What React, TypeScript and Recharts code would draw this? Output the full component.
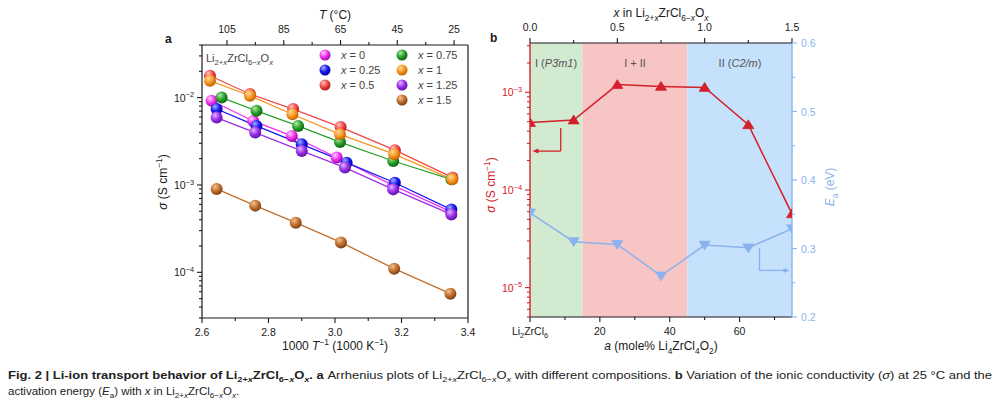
import React from 'react';
import { ComposedChart, Line, XAxis, YAxis, ReferenceArea, ReferenceLine, ReferenceDot } from 'recharts';

const FONT = '"Liberation Sans", Arial, Helvetica, sans-serif';
const CAP_FONT = '"Liberation Sans Narrow", "Liberation Sans", sans-serif';

// ---------- panel a : Arrhenius plots, 1000/T vs sigma ----------
const invT_x0 = [2.629, 2.754, 2.87, 3.005, 3.175, 3.348];
const sig_x0 = [9.2e-3, 5.4e-3, 3.64e-3, 2.06e-3, 9.9e-4, 4.96e-4];
const invT_x025 = [2.644, 2.764, 2.9, 3.035, 3.18, 3.35];
const sig_x025 = [7.4e-3, 4.74e-3, 2.92e-3, 1.8e-3, 1.06e-3, 5.23e-4];
const invT_x05 = [2.624, 2.744, 2.874, 3.017, 3.18, 3.353];
const sig_x05 = [1.78e-2, 1.1e-2, 7.4e-3, 4.6e-3, 2.5e-3, 1.22e-3];
const invT_x075 = [2.659, 2.764, 2.889, 3.015, 3.175, 3.35];
const sig_x075 = [1.0e-2, 7.05e-3, 4.74e-3, 3.1e-3, 1.88e-3, 1.16e-3];
const invT_x1 = [2.624, 2.744, 2.872, 3.015, 3.178, 3.353];
const sig_x1 = [1.56e-2, 1.05e-2, 6.45e-3, 3.8e-3, 2.25e-3, 1.16e-3];
const invT_x125 = [2.644, 2.76, 2.9, 3.03, 3.175, 3.35];
const sig_x125 = [5.9e-3, 3.98e-3, 2.45e-3, 1.58e-3, 8.9e-4, 4.6e-4];
const invT_x15 = [2.644, 2.76, 2.882, 3.018, 3.178, 3.347];
const sig_x15 = [9.0e-4, 5.8e-4, 3.7e-4, 2.2e-4, 1.1e-4, 5.7e-5];

const seriesA = [
  { label: '0', invT: invT_x0, sigma: sig_x0, base: '#ee33ee', light: '#ffd2ff', dark: '#a000a8' },
  { label: '0.25', invT: invT_x025, sigma: sig_x025, base: '#1818f0', light: '#a8b0ff', dark: '#0000a0' },
  { label: '0.5', invT: invT_x05, sigma: sig_x05, base: '#f04848', light: '#ffc4c4', dark: '#b01818' },
  { label: '0.75', invT: invT_x075, sigma: sig_x075, base: '#2aa02a', light: '#b0eaa8', dark: '#0e600e' },
  { label: '1', invT: invT_x1, sigma: sig_x1, base: '#f8961e', light: '#ffdaa6', dark: '#c06000' },
  { label: '1.25', invT: invT_x125, sigma: sig_x125, base: '#9a30e8', light: '#e2b6ff', dark: '#5e10a8' },
  { label: '1.5', invT: invT_x15, sigma: sig_x15, base: '#c0702e', light: '#f2c494', dark: '#7c3e10' },
];

const ticksInvT = [2.6, 2.7, 2.8, 2.9, 3.0, 3.1, 3.2, 3.3, 3.4];
const ticksTempC = [105, 95, 85, 75, 65, 55, 45, 35, 25];

// ---------- panel b : sigma(25 C) and Ea vs composition ----------
const molePct = [0, 12.5, 25, 37.5, 50, 62.5, 75];
const xComp = [0, 0.25, 0.5, 0.75, 1, 1.25, 1.5];
const sigma25 = [4.9e-4, 5.2e-4, 1.2e-3, 1.15e-3, 1.12e-3, 4.65e-4, 5.7e-5];
const eaEv = [0.352, 0.31, 0.306, 0.26, 0.305, 0.301, 0.329];

const ticksMole = [0, 10, 20, 30, 40, 50, 60, 70];
const ticksX = [0, 0.25, 0.5, 0.75, 1, 1.25, 1.5];
const ticksEa = [0.2, 0.25, 0.3, 0.35, 0.4, 0.45, 0.5, 0.55, 0.6];

const phaseAreas = [
  { from: 0, to: 15, fill: '#d2ead0' },
  { from: 15, to: 45, fill: '#f8c5c5' },
  { from: 45, to: 75, fill: '#c6e1fb' },
];

// annotation arrows (data units)
const sigArrow = [{ x: 8.8, y: 4.3e-4 }, { x: 8.8, y: 2.5e-4 }, { x: 2.2, y: 2.5e-4 }];
const eaArrow = [{ x: 65.7, y: 0.301 }, { x: 65.7, y: 0.268 }, { x: 72.8, y: 0.268 }];

const RED = '#d4202a';
const BLUE = '#8ab2ee';
const INK = '#1a1a1a';

const logTicks = (lo: number, hi: number) => {
  const out: number[] = [];
  for (let e = -7; e <= 0; e++) {
    for (let m = 1; m < 10; m++) {
      const v = m * Math.pow(10, e);
      if (v >= lo * 0.999 && v <= hi * 1.001) out.push(v);
    }
  }
  return out;
};
const isDecade = (v: number) => Math.abs(Math.log10(v) - Math.round(Math.log10(v))) < 1e-6;

type Seg = [string, number?, string?];
const shift = (lv: number, fs: number) => (lv < 0 ? fs * 0.3 : lv > 0 ? -fs * 0.4 : 0);
function rich(segs: Seg[], fs: number) {
  let cur = 0;
  return segs.map(([t, lv = 0, st = ''], i) => {
    const dy = shift(lv, fs) - shift(cur, fs);
    cur = lv;
    return (
      <tspan
        key={i}
        dy={dy || undefined}
        fontSize={lv ? fs * 0.7 : fs}
        fontStyle={st.includes('i') ? 'italic' : undefined}
        fontWeight={st.includes('b') ? 700 : undefined}
      >
        {t}
      </tspan>
    );
  });
}
const formula = (st = ''): Seg[] => [
  ['Li', 0, st], ['2+', -1, st], ['x', -1, st + 'i'], ['ZrCl', 0, st], ['6−', -1, st], ['x', -1, st + 'i'], ['O', 0, st], ['x', -1, st + 'i'],
];
const pow10 = (v: number): Seg[] => [['10'], ['−' + Math.round(-Math.log10(v)), 1]];

type TickOpts = {
  side: 'left' | 'right' | 'top' | 'bottom';
  color: string;
  isMajor: (v: number) => boolean;
  label: (v: number) => any;
  fs?: number;
};
const makeTick = (o: TickOpts) => (p: any) => {
  const { x, y, payload } = p;
  const v = payload.value;
  const maj = o.isMajor(v);
  const L = maj ? 5 : 3;
  const fs = o.fs ?? 10.5;
  let ln = [x, y, x, y];
  let tx = x, ty = y, anchor = 'middle';
  if (o.side === 'left') { ln = [x, y, x - L, y]; tx = x - 8; ty = y + 4; anchor = 'end'; }
  else if (o.side === 'right') { ln = [x, y, x + L, y]; tx = x + 9; ty = y + 4; anchor = 'start'; }
  else if (o.side === 'top') { ln = [x, y, x, y - L]; ty = y - 12; }
  else { ln = [x, y, x, y + L]; ty = y + 18; }
  return (
    <g>
      <line x1={ln[0]} y1={ln[1]} x2={ln[2]} y2={ln[3]} stroke={o.color} strokeWidth={1.1} />
      {maj && (
        <text x={tx} y={ty} textAnchor={anchor} fill={o.color} fontSize={fs} fontFamily={FONT}>
          {o.label(v)}
        </text>
      )}
    </g>
  );
};

const Ball = (id: string) => (p: any) =>
  p.cx == null ? <g key={p.key} /> : <circle key={p.key} cx={p.cx} cy={p.cy} r={6} fill={`url(#${id})`} />;

const Tri = (color: string, down: boolean, s = 5.5) => (p: any) => {
  if (p.cx == null) return <g key={p.key} />;
  const { cx, cy } = p;
  const d = down
    ? `M${cx - s},${cy - s * 0.7} L${cx + s},${cy - s * 0.7} L${cx},${cy + s * 0.9} Z`
    : `M${cx - s},${cy + s * 0.7} L${cx + s},${cy + s * 0.7} L${cx},${cy - s * 0.9} Z`;
  return <path key={p.key} d={d} fill={color} stroke={color} strokeWidth={0.8} />;
};

const ArrowHead = (color: string, dir: 'left' | 'right') => (p: any) => {
  const { cx, cy } = p;
  const k = dir === 'left' ? 1 : -1;
  return <path d={`M${cx},${cy} L${cx + 6 * k},${cy - 2.5} L${cx + 6 * k},${cy + 2.5} Z`} fill={color} />;
};

const legendCols = [
  { cx: 325, tx: 341, items: [0, 1, 2] },
  { cx: 402, tx: 418, items: [3, 4, 5, 6] },
];

function PanelA() {
  const sigTicks = logTicks(3e-5, 4e-2);
  return (
    <ComposedChart width={400} height={360} margin={{ top: 15, right: 32, bottom: 12, left: 42 }}>
      <defs>
        {seriesA.map((s, i) => (
          <radialGradient key={i} id={`ball${i}`} cx="38%" cy="34%" r="68%" fx="36%" fy="30%">
            <stop offset="0" stopColor={s.light} />
            <stop offset="0.55" stopColor={s.base} />
            <stop offset="1" stopColor={s.dark} />
          </radialGradient>
        ))}
      </defs>
      <XAxis
        xAxisId="b"
        dataKey="t"
        type="number"
        domain={[2.6, 3.4]}
        allowDataOverflow
        ticks={ticksInvT}
        interval={0}
        height={30}
        tickSize={0}
        tickMargin={0}
        tickLine={false}
        axisLine={{ stroke: INK, strokeWidth: 1.2 }}
        tick={makeTick({ side: 'bottom', color: INK, isMajor: (v) => Math.round(v * 10) % 2 === 0, label: (v) => v.toFixed(1) })}
      />
      <XAxis
        xAxisId="top"
        dataKey="c"
        orientation="top"
        type="number"
        domain={[20.1, 113.8]}
        reversed
        allowDataOverflow
        ticks={ticksTempC}
        interval={0}
        height={30}
        tickSize={0}
        tickMargin={0}
        tickLine={false}
        axisLine={{ stroke: INK, strokeWidth: 1.2 }}
        tick={makeTick({ side: 'top', color: INK, isMajor: (v) => (v - 25) % 20 === 0, label: (v) => String(v) })}
      />
      <YAxis
        yAxisId="s"
        scale="log"
        type="number"
        domain={[3e-5, 4e-2]}
        allowDataOverflow
        ticks={sigTicks}
        interval={0}
        width={60}
        tickSize={0}
        tickMargin={0}
        tickLine={false}
        axisLine={{ stroke: INK, strokeWidth: 1.2 }}
        tick={makeTick({ side: 'left', color: INK, isMajor: isDecade, label: (v) => rich(pow10(v), 10.5) })}
      />
      <ReferenceLine xAxisId="b" yAxisId="s" x={3.4} stroke={INK} strokeWidth={1.2} />
      {/* empty series so that the temperature axis is drawn */}
      <Line
        xAxisId="top"
        yAxisId="s"
        data={ticksTempC.map((c) => ({ c, s: null }))}
        dataKey="s"
        stroke="none"
        dot={false}
        activeDot={false}
        legendType="none"
        isAnimationActive={false}
      />
      {seriesA.map((s, i) => (
        <Line
          key={s.label}
          xAxisId="b"
          yAxisId="s"
          data={s.invT.map((t, j) => ({ t, s: s.sigma[j] }))}
          dataKey="s"
          type="linear"
          stroke={s.base}
          strokeWidth={1.3}
          dot={Ball(`ball${i}`)}
          activeDot={false}
          isAnimationActive={false}
        />
      ))}
    </ComposedChart>
  );
}

function PanelB() {
  const rows = molePct.map((a, i) => ({ a, x: xComp[i], sigma: sigma25[i], ea: eaEv[i] }));
  const sigTicks = logTicks(5e-6, 3.2e-3);
  return (
    <ComposedChart width={400} height={360} data={rows} margin={{ top: 15, right: 38, bottom: 13, left: 10 }}>
      <XAxis
        xAxisId="b"
        dataKey="a"
        type="number"
        domain={[0, 75]}
        allowDataOverflow
        ticks={ticksMole}
        interval={0}
        height={30}
        tickSize={0}
        tickMargin={0}
        tickLine={false}
        axisLine={{ stroke: INK, strokeWidth: 1.2 }}
        tick={makeTick({
          side: 'bottom',
          color: INK,
          isMajor: (v) => v % 20 === 0,
          label: (v) => (v === 0 ? rich([['Li'], ['2', -1], ['ZrCl'], ['6', -1]], 10.5) : String(v)),
        })}
      />
      <XAxis
        xAxisId="t"
        dataKey="x"
        orientation="top"
        type="number"
        domain={[0, 1.5]}
        allowDataOverflow
        ticks={ticksX}
        interval={0}
        height={28}
        tickSize={0}
        tickMargin={0}
        tickLine={false}
        axisLine={{ stroke: INK, strokeWidth: 1.2 }}
        tick={makeTick({ side: 'top', color: INK, isMajor: (v) => Math.round(v * 100) % 50 === 0, label: (v) => v.toFixed(1) })}
      />
      <YAxis
        yAxisId="s"
        scale="log"
        type="number"
        domain={[5e-6, 3.2e-3]}
        allowDataOverflow
        ticks={sigTicks}
        interval={0}
        width={50}
        tickSize={0}
        tickMargin={0}
        tickLine={false}
        axisLine={{ stroke: RED, strokeWidth: 1.4 }}
        tick={makeTick({ side: 'left', color: RED, isMajor: isDecade, label: (v) => rich(pow10(v), 10.5) })}
      />
      <YAxis
        yAxisId="e"
        orientation="right"
        type="number"
        domain={[0.2, 0.6]}
        allowDataOverflow
        ticks={ticksEa}
        interval={0}
        width={40}
        tickSize={0}
        tickMargin={0}
        tickLine={false}
        axisLine={{ stroke: BLUE, strokeWidth: 1.4 }}
        tick={makeTick({ side: 'right', color: BLUE, isMajor: (v) => Math.round(v * 100) % 10 === 0, label: (v) => v.toFixed(1) })}
      />
      {phaseAreas.map((r) => (
        <ReferenceArea key={r.from} xAxisId="b" yAxisId="e" x1={r.from} x2={r.to} fill={r.fill} fillOpacity={1} stroke="none" />
      ))}
      <ReferenceLine xAxisId="b" yAxisId="s" segment={[sigArrow[0], sigArrow[1]]} stroke={RED} strokeWidth={1.3} />
      <ReferenceLine xAxisId="b" yAxisId="s" segment={[sigArrow[1], sigArrow[2]]} stroke={RED} strokeWidth={1.3} />
      <ReferenceDot xAxisId="b" yAxisId="s" x={sigArrow[2].x - 1.5} y={sigArrow[2].y} shape={ArrowHead(RED, 'left')} />
      <ReferenceLine xAxisId="b" yAxisId="e" segment={[eaArrow[0], eaArrow[1]]} stroke={BLUE} strokeWidth={1.3} />
      <ReferenceLine xAxisId="b" yAxisId="e" segment={[eaArrow[1], eaArrow[2]]} stroke={BLUE} strokeWidth={1.3} />
      <ReferenceDot xAxisId="b" yAxisId="e" x={eaArrow[2].x + 1.5} y={eaArrow[2].y} shape={ArrowHead(BLUE, 'right')} />
      <Line
        xAxisId="t"
        yAxisId="e"
        dataKey="ea"
        type="linear"
        stroke={BLUE}
        strokeWidth={1.5}
        dot={Tri(BLUE, true)}
        activeDot={false}
        isAnimationActive={false}
      />
      <Line
        xAxisId="b"
        yAxisId="s"
        dataKey="sigma"
        type="linear"
        stroke={RED}
        strokeWidth={1.5}
        dot={Tri(RED, false)}
        activeDot={false}
        isAnimationActive={false}
      />
    </ComposedChart>
  );
}

const cap1: Seg[] = [
  ['Fig. 2 | Li-ion transport behavior of ', 0, 'b'],
  ...formula('b'),
  ['. a ', 0, 'b'],
  ['Arrhenius plots of '],
  ...formula(),
  [' with different compositions. '],
  ['b ', 0, 'b'],
  ['Variation of the ionic conductivity ('],
  ['σ', 0, 'i'],
  [') at 25 °C and the'],
];
const cap2: Seg[] = [
  ['activation energy ('],
  ['E', 0, 'i'],
  ['a', -1],
  [') with '],
  ['x', 0, 'i'],
  [' in '],
  ...formula(),
  ['.'],
];

function Overlay() {
  const t = { fontFamily: FONT, fill: INK };
  return (
    <svg width={1000} height={406} style={{ position: 'absolute', left: 0, top: 0, pointerEvents: 'none' }}>
      {/* panel a */}
      <text x={165} y={43} fontSize={12} fontWeight={700} {...t}>a</text>
      <text x={335} y={19} fontSize={12} textAnchor="middle" {...t}>{rich([['T', 0, 'i'], [' (°C)']], 12)}</text>
      <text x={335} y={350} fontSize={12} textAnchor="middle" {...t}>
        {rich([['1000 '], ['T', 0, 'i'], ['−1', 1], [' (1000 K'], ['−1', 1], [')']], 12)}
      </text>
      <text transform="translate(167,182) rotate(-90)" fontSize={12} textAnchor="middle" {...t}>
        {rich([['σ', 0, 'i'], [' (S cm'], ['−1', 1], [')']], 12)}
      </text>
      <text x={206} y={62} fontSize={11} fontFamily={FONT} fill="#444">{rich(formula(), 11)}</text>
      {legendCols.map((c) =>
        c.items.map((idx, r) => (
          <g key={idx}>
            <circle cx={c.cx} cy={55 + r * 15} r={5.5} fill={`url(#ball${idx})`} />
            <text x={c.tx} y={59 + r * 15} fontSize={11} fontFamily={FONT} fill="#444">
              {rich([['x', 0, 'i'], [' = ' + seriesA[idx].label]], 11)}
            </text>
          </g>
        ))
      )}
      {/* panel b */}
      <text x={490} y={42} fontSize={12} fontWeight={700} {...t}>b</text>
      <text x={661} y={17} fontSize={12} textAnchor="middle" {...t}>{rich([['x', 0, 'i'], [' in '], ...formula()], 12)}</text>
      <text x={661} y={350} fontSize={12} textAnchor="middle" {...t}>
        {rich([['a', 0, 'i'], [' (mole% Li'], ['4', -1], ['ZrCl'], ['4', -1], ['O'], ['2', -1], [')']], 12)}
      </text>
      <text transform="translate(495,185) rotate(-90)" fontSize={12} textAnchor="middle" fontFamily={FONT} fill={RED}>
        {rich([['σ', 0, 'i'], [' (S cm'], ['−1', 1], [')']], 12)}
      </text>
      <text transform="translate(834,187) rotate(-90)" fontSize={12} textAnchor="middle" fontFamily={FONT} fill={BLUE}>
        {rich([['E', 0, 'i'], ['a', -1], [' (eV)']], 12)}
      </text>
      <text x={556} y={67} fontSize={11} textAnchor="middle" fontFamily={FONT} fill="#555">{rich([['I ('], ['P3\u0304m1', 0, 'i'], [')']], 11)}</text>
      <text x={635} y={67} fontSize={11} textAnchor="middle" fontFamily={FONT} fill="#555">I + II</text>
      <text x={740} y={67} fontSize={11} textAnchor="middle" fontFamily={FONT} fill="#555">{rich([['II ('], ['C2/m', 0, 'i'], [')']], 11)}</text>
      {/* caption */}
      <text x={8} y={379} fontSize={11.5} fontFamily={CAP_FONT} fill="#222" textLength={984} lengthAdjust="spacingAndGlyphs">
        {rich(cap1, 11.5)}
      </text>
      <text x={8} y={395} fontSize={11.5} fontFamily={CAP_FONT} fill="#222">
        {rich(cap2, 11.5)}
      </text>
    </svg>
  );
}

export default function App() {
  return (
    <div style={{ position: 'absolute', left: 0, top: 0, width: 1000, height: 406, background: '#fff' }}>
      <div style={{ position: 'absolute', left: 100, top: 0 }}>
        <PanelA />
      </div>
      <div style={{ position: 'absolute', left: 470, top: 0 }}>
        <PanelB />
      </div>
      <Overlay />
    </div>
  );
}
